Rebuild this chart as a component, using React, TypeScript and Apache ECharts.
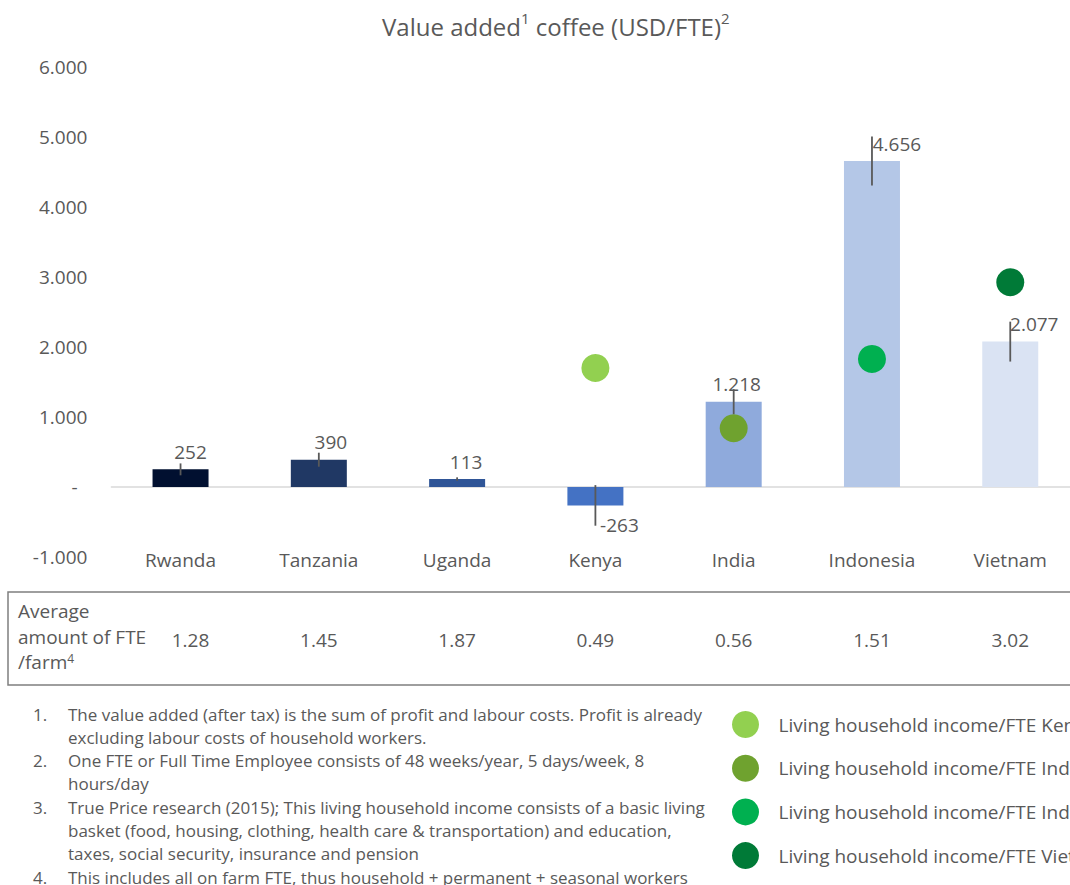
import React, { useEffect, useRef } from "react";
import * as echarts from "echarts";

// ---------- data ----------
const CATEGORIES = ["Rwanda", "Tanzania", "Uganda", "Kenya", "India", "Indonesia", "Vietnam"];
const VALUE_ADDED = [252, 390, 113, -263, 1218, 4656, 2077];
const ERROR_MARGIN = [85, 100, 25, 290, 180, 350, 285];
const FTE_PER_FARM = ["1.28", "1.45", "1.87", "0.49", "0.56", "1.51", "3.02"];

const LIVING_KENYA = [null, null, null, 1700, null, null, null];
const LIVING_INDIA = [null, null, null, null, 840, null, null];
const LIVING_INDONESIA = [null, null, null, null, null, 1830, null];
const LIVING_VIETNAM = [null, null, null, null, null, null, 2925];

const LEGEND_NAMES = [
  "Living household income/FTE Kenya",
  "Living household income/FTE India",
  "Living household income/FTE Indonesia",
  "Living household income/FTE Vietnam",
];

const Y_MIN = -1000;
const Y_MAX = 6000;
const Y_INTERVAL = 1000;

const FOOTNOTES = [
  ["The value added (after tax) is the sum of profit and labour costs. Profit is already", "excluding labour costs of household workers."],
  ["One FTE or Full Time Employee consists of 48 weeks/year, 5 days/week, 8", "hours/day"],
  [
    "True Price research (2015); This living household income consists of a basic living",
    "basket (food, housing, clothing, health care & transportation) and education,",
    "taxes, social security, insurance and pension",
  ],
  ["This includes all on farm FTE, thus household + permanent + seasonal workers"],
];

// ---------- styles ----------
const FONT = "Open Sans";
const GREY = "#595959";
const BAR_COLORS = ["#011030", "#203864", "#2F5597", "#4472C4", "#8FAADC", "#B4C7E7", "#DAE3F3"];
const DOT_COLORS = ["#92D050", "#6FA22F", "#00B050", "#007A37"];
const LABEL_DX = [10, 12, 9, 24, 3, 25, 24];

function fmt(v: number): string {
  const s = Math.round(Math.abs(v)).toString().replace(/\B(?=(\d{3})+(?!\d))/g, ".");
  return (v < 0 ? "-" : "") + s;
}

export default function App() {
  const ref = useRef<HTMLDivElement>(null);

  useEffect(() => {
    if (!ref.current) return;
    const chart = echarts.init(ref.current, undefined, { renderer: "svg" });

    const barData = VALUE_ADDED.map((v, i) => ({
      value: v,
      itemStyle: { color: BAR_COLORS[i] },
      label: {
        position: v < 0 ? "bottom" : "top",
        distance: v < 0 ? 10 : 8,
        offset: [LABEL_DX[i], 0],
      },
    }));

    const errData = VALUE_ADDED.map((v, i) => [i, v, ERROR_MARGIN[i]]);

    const footGraphics: any[] = [];
    let y = 714;
    FOOTNOTES.forEach((lines, n) => {
      footGraphics.push({
        type: "text",
        x: 33,
        y,
        style: { text: `${n + 1}.`, fontSize: 17, fontFamily: FONT, fill: GREY, verticalAlign: "middle" },
      });
      lines.forEach((ln) => {
        footGraphics.push({
          type: "text",
          x: 68,
          y,
          style: { text: ln, fontSize: 17, fontFamily: FONT, fill: GREY, verticalAlign: "middle" },
        });
        y += 23.3;
      });
    });

    const dotSeries = [LIVING_KENYA, LIVING_INDIA, LIVING_INDONESIA, LIVING_VIETNAM].map((d, k) => ({
      name: LEGEND_NAMES[k],
      type: "scatter",
      data: d.map((v) => (v === null ? "-" : v)),
      symbol: "circle",
      symbolSize: 28,
      itemStyle: { color: DOT_COLORS[k], opacity: 1 },
      z: 5,
    }));

    chart.setOption({
      animation: false,
      textStyle: { fontFamily: FONT },
      title: {
        text: "Value added{s|1} coffee (USD/FTE){s|2}",
        left: 377,
        top: 5,
        textStyle: {
          fontFamily: FONT,
          fontSize: 24,
          fontWeight: "normal",
          color: GREY,
          lineHeight: 32,
          rich: {
            s: { fontFamily: FONT, fontSize: 15, color: GREY, verticalAlign: "top", lineHeight: 15 },
          },
        },
      },
      grid: { left: 111.4, top: 67, width: 968, height: 490, containLabel: false },
      xAxis: [
        {
          type: "category",
          data: CATEGORIES,
          position: "bottom",
          axisLine: { onZero: true, lineStyle: { color: "#D9D9D9", width: 1.5 } },
          axisTick: { show: false },
          axisLabel: { show: false },
          splitLine: { show: false },
        },
        {
          type: "category",
          data: CATEGORIES,
          position: "bottom",
          axisLine: { show: false, onZero: false },
          axisTick: { show: false },
          axisLabel: { fontSize: 19, color: GREY, fontFamily: FONT, margin: 3, verticalAlign: "middle", interval: 0 },
        },
        {
          type: "category",
          data: FTE_PER_FARM,
          position: "bottom",
          offset: 80,
          axisLine: { show: false, onZero: false },
          axisTick: { show: false },
          axisLabel: {
            fontSize: 19,
            color: GREY,
            fontFamily: FONT,
            margin: 3,
            verticalAlign: "middle",
            interval: 0,
            formatter: (v: string, i: number) => (i === 0 ? `{r|${v}}` : v),
            rich: { r: { fontSize: 19, color: GREY, fontFamily: FONT, padding: [0, 0, 0, 20] } },
          },
        },
      ],
      yAxis: {
        type: "value",
        min: Y_MIN,
        max: Y_MAX,
        interval: Y_INTERVAL,
        axisLine: { show: false },
        axisTick: { show: false },
        splitLine: { show: false },
        axisLabel: {
          fontSize: 19,
          color: GREY,
          fontFamily: FONT,
          margin: 24,
          formatter: (v: number) => (v === 0 ? "-  " : fmt(v)),
        },
      },
      legend: {
        orient: "vertical",
        left: 727,
        top: 706,
        itemWidth: 56,
        itemHeight: 27,
        itemGap: 16.7,
        icon: "circle",
        data: LEGEND_NAMES,
        textStyle: { fontSize: 19, color: GREY, fontFamily: FONT },
      },
      series: [
        {
          type: "bar",
          data: barData,
          barWidth: 56,
          z: 2,
          label: {
            show: true,
            fontSize: 19,
            color: GREY,
            fontFamily: FONT,
            formatter: (p: any) => fmt(p.value),
          },
        },
        {
          type: "custom",
          data: errData,
          encode: { x: 0, y: 1 },
          z: 3,
          renderItem: (params: any, api: any) => {
            const x = api.value(0);
            const v = api.value(1);
            const e = api.value(2);
            const a = api.coord([x, v + e]);
            const b = api.coord([x, v - e]);
            return {
              type: "line",
              shape: { x1: a[0], y1: a[1], x2: b[0], y2: b[1] },
              style: { stroke: GREY, lineWidth: 1.8 },
            };
          },
        },
        ...dotSeries,
      ],
      graphic: [
        {
          type: "rect",
          shape: { x: 8, y: 592, width: 1100, height: 93 },
          style: { fill: "none", stroke: "#7F7F7F", lineWidth: 1.5 },
        },
        {
          type: "text",
          x: 18,
          y: 611,
          style: { text: "Average", fontSize: 19, fontFamily: FONT, fill: GREY, verticalAlign: "middle" },
        },
        {
          type: "text",
          x: 18,
          y: 637,
          style: { text: "amount of FTE", fontSize: 19, fontFamily: FONT, fill: GREY, verticalAlign: "middle" },
        },
        {
          type: "text",
          x: 18,
          y: 662,
          style: {
            text: "/farm{s|4}",
            fontSize: 19,
            fontFamily: FONT,
            fill: GREY,
            verticalAlign: "middle",
            rich: { s: { fontSize: 12, fontFamily: FONT, fill: GREY, verticalAlign: "top", lineHeight: 12 } },
          },
        },
        ...footGraphics,
      ],
    });

    return () => chart.dispose();
  }, []);

  return (
    <div style={{ position: "absolute", left: 0, top: 0, width: 1070, height: 885, overflow: "hidden", background: "#fff" }}>
      <div ref={ref} style={{ width: 1250, height: 885 }} />
    </div>
  );
}
